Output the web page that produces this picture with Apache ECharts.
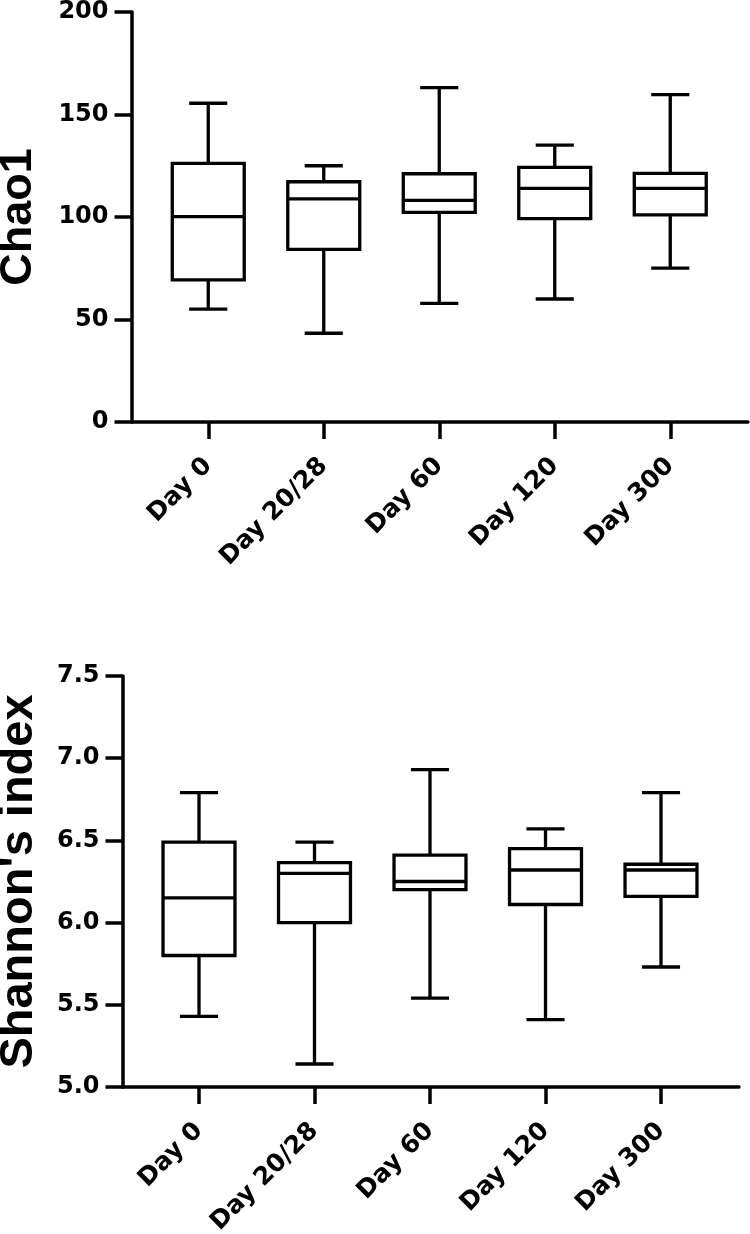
<!DOCTYPE html>
<html>
<head>
<meta charset="utf-8">
<script src="https://cdn.jsdelivr.net/npm/echarts@6/dist/echarts.min.js"></script>
<style>
html,body{margin:0;padding:0;background:#fff;}
#chart{width:750px;height:1234px;}
</style>
</head>
<body>
<div id="chart"></div>
<script>
// ---- data ----
const categories = ['Day 0', 'Day 20/28', 'Day 60', 'Day 120', 'Day 300'];

// Chao1 (min, Q1, median, Q3, max)
const chaoMin    = [55.1, 43.3, 57.9, 60.0, 75.1];
const chaoQ1     = [69.3, 84.2, 102.3, 99.2, 101.0];
const chaoMedian = [100.2, 108.8, 108.1, 114.0, 114.0];
const chaoQ3     = [126.2, 117.2, 121.1, 124.2, 121.3];
const chaoMax    = [155.5, 125.0, 163.1, 135.1, 159.7];
const chaoTicks  = [0, 50, 100, 150, 200];

// Shannon's index (min, Q1, median, Q3, max)
const shanMin    = [5.43, 5.14, 5.54, 5.41, 5.73];
const shanQ1     = [5.80, 6.00, 6.20, 6.11, 6.16];
const shanMedian = [6.15, 6.30, 6.25, 6.32, 6.32];
const shanQ3     = [6.49, 6.365, 6.41, 6.45, 6.355];
const shanMax    = [6.79, 6.49, 6.93, 6.57, 6.79];
const shanTicks  = [5.0, 5.5, 6.0, 6.5, 7.0, 7.5];

// ---- rendering ----
const TICK_FONT = '"DejaVu Sans", sans-serif';
const NAME_FONT = '"Liberation Sans", Arial, sans-serif';

function buildData(mn, q1, md, q3, mx) {
  return categories.map((c, i) => [i, mn[i], q1[i], md[i], q3[i], mx[i]]);
}

function renderBox(params, api) {
  const x = api.value(0);
  const lo = api.coord([x, api.value(1)]);
  const q1 = api.coord([x, api.value(2)]);
  const md = api.coord([x, api.value(3)]);
  const q3 = api.coord([x, api.value(4)]);
  const hi = api.coord([x, api.value(5)]);
  const band = api.size([1, 0])[0];
  const bw = band * 0.623;
  const cw = band * 0.33;
  const cx = lo[0];
  const st = { stroke: '#000', lineWidth: 3.3, fill: null };
  return {
    type: 'group',
    children: [
      { type: 'line', shape: { x1: cx, y1: q3[1], x2: cx, y2: hi[1] }, style: st },
      { type: 'line', shape: { x1: cx, y1: q1[1], x2: cx, y2: lo[1] }, style: st },
      { type: 'line', shape: { x1: cx - cw / 2, y1: hi[1], x2: cx + cw / 2, y2: hi[1] }, style: st },
      { type: 'line', shape: { x1: cx - cw / 2, y1: lo[1], x2: cx + cw / 2, y2: lo[1] }, style: st },
      { type: 'rect', shape: { x: cx - bw / 2, y: q3[1], width: bw, height: q1[1] - q3[1] },
        style: { stroke: '#000', lineWidth: 3.3, fill: '#fff' } },
      { type: 'line', shape: { x1: cx - bw / 2, y1: md[1], x2: cx + bw / 2, y2: md[1] }, style: st }
    ]
  };
}

const axisLineStyle = { color: '#000', width: 3.5 };

function yAxisVisible(gridIndex, name, min, max, interval, fmt, nameGap, nameSize) {
  return {
    type: 'value', gridIndex, min, max, interval,
    name, nameLocation: 'middle', nameGap,
    nameTextStyle: { fontFamily: NAME_FONT, fontWeight: 'bold', fontSize: nameSize, color: '#000' },
    axisLine: { show: true, onZero: false, lineStyle: axisLineStyle },
    axisTick: { show: true, length: 17, lineStyle: axisLineStyle },
    axisLabel: { margin: 23, fontFamily: TICK_FONT, fontWeight: 'bold', fontSize: 24, color: '#000', formatter: fmt },
    splitLine: { show: false }
  };
}
function yAxisHidden(gridIndex, min, max) {
  return { type: 'value', gridIndex, min, max, show: false, splitLine: { show: false } };
}
function xAxisLine(gridIndex) {
  return {
    type: 'value', gridIndex, min: 0, max: 1,
    axisLine: { show: true, onZero: false, lineStyle: axisLineStyle },
    axisTick: { show: false }, axisLabel: { show: false }, splitLine: { show: false }
  };
}
function xAxisCat(gridIndex) {
  return {
    type: 'category', gridIndex, data: categories, boundaryGap: true,
    axisLine: { show: false },
    axisTick: { show: true, alignWithLabel: true, length: 17, lineStyle: axisLineStyle },
    axisLabel: { rotate: 45, margin: 40, interval: 0, fontFamily: TICK_FONT, fontWeight: 'bold', fontSize: 25, color: '#000' },
    splitLine: { show: false }
  };
}

const chart = echarts.init(document.getElementById('chart'), null, { renderer: 'canvas' });
chart.setOption({
  animation: false,
  backgroundColor: '#fff',
  grid: [
    { left: 131.5, top: 12, width: 616.5, height: 410, outerBoundsMode: 'none', containLabel: false },
    { left: 150.5, top: 12, width: 577.5, height: 410, outerBoundsMode: 'none', containLabel: false },
    { left: 122.5, top: 676, width: 616.5, height: 411, outerBoundsMode: 'none', containLabel: false },
    { left: 141.25, top: 676, width: 577.5, height: 411, outerBoundsMode: 'none', containLabel: false }
  ],
  xAxis: [xAxisLine(0), xAxisCat(1), xAxisLine(2), xAxisCat(3)],
  yAxis: [
    yAxisVisible(0, 'Chao1', 0, 200, 50, v => String(v), 90, 45),
    yAxisHidden(1, 0, 200),
    yAxisVisible(2, "Shannon's index", 5, 7.5, 0.5, v => v.toFixed(1), 80, 47),
    yAxisHidden(3, 5, 7.5)
  ],
  series: [
    {
      type: 'custom', xAxisIndex: 1, yAxisIndex: 1,
      renderItem: renderBox,
      encode: { x: 0, y: [1, 2, 3, 4, 5] },
      data: buildData(chaoMin, chaoQ1, chaoMedian, chaoQ3, chaoMax)
    },
    {
      type: 'custom', xAxisIndex: 3, yAxisIndex: 3,
      renderItem: renderBox,
      encode: { x: 0, y: [1, 2, 3, 4, 5] },
      data: buildData(shanMin, shanQ1, shanMedian, shanQ3, shanMax)
    }
  ]
});
</script>
</body>
</html>
